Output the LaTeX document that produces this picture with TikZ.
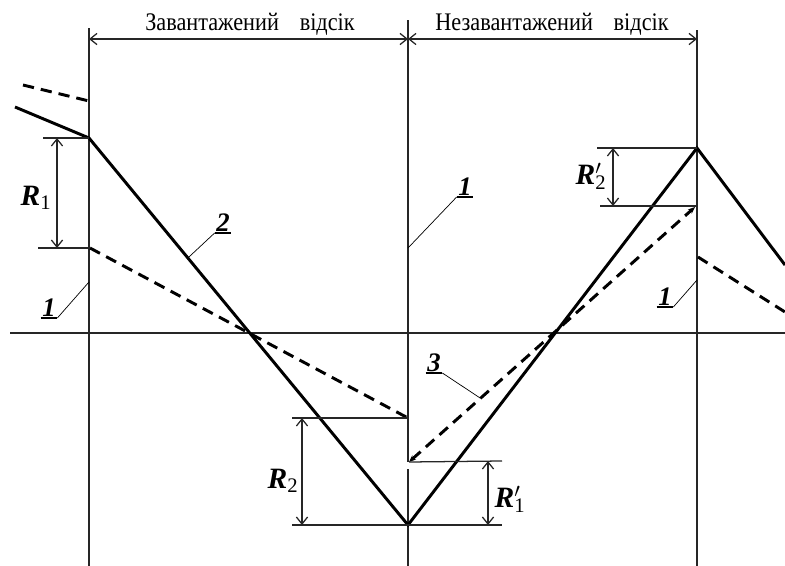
\documentclass[tikz,border=0pt]{standalone}
\usepackage{fontspec}
\setmainfont{Liberation Serif}
\newfontfamily\titlefont[FakeStretch=0.88]{Liberation Serif}
\usetikzlibrary{arrows.meta}

\begin{document}
\begin{tikzpicture}[
    x=0.025cm, y=-0.025cm,
    % Line styles
    thin/.style={line width=0.9pt, draw=black!85},
    curve/.style={line width=2.1pt},
    dashcurve/.style={line width=2.1pt, dash pattern=on 8pt off 5pt},
    leader/.style={line width=0.5pt},
    uline/.style={line width=1.4pt},
    dim/.style={thin, {Straight Barb[length=5pt,width=8pt]}-{Straight Barb[length=5pt,width=8pt]}},
    tip/.style={{Stealth[length=5pt,width=4pt]}-{Stealth[length=5pt,width=4pt]}},
    % Text styles
    title/.style={font=\titlefont\fontsize{18}{18}\selectfont, inner sep=0pt, anchor=base},
    lbl/.style={font=\fontsize{21}{21}\selectfont\bfseries\itshape, inner sep=0pt},
    num/.style={font=\fontsize{19}{19}\selectfont\bfseries\itshape, inner sep=1pt},
]
\useasboundingbox (0,0) rectangle (785,566);

% Frame of the bays
\coordinate (a0) at (10,333);  \coordinate (a1) at (785,333);
\coordinate (vl0) at (89,28);  \coordinate (vl1) at (89,566);
\coordinate (vm0) at (408,20); \coordinate (vm1) at (408,462);
\coordinate (vm2) at (408,469); \coordinate (vm3) at (408,566);
\coordinate (vr0) at (697,30); \coordinate (vr1) at (697,566);
\draw[thin] (a0) -- (a1);
\draw[thin] (vl0) -- (vl1);
\draw[thin] (vm0) -- (vm1);
\draw[thin] (vm2) -- (vm3);
\draw[thin] (vr0) -- (vr1);

% Bay dimensions
\coordinate (d0) at (89,39); \coordinate (d1) at (408,39); \coordinate (d2) at (697,39);
\draw[dim] (d0) -- (d1);
\draw[dim] (d1) -- (d2);
\node[title] (loaded) at (250,30) {Завантажений\hspace{0.52cm}відсік};
\node[title] (unloaded) at (552,30) {Незавантажений\hspace{0.52cm}відсік};

% Moment line 2
\coordinate (k0) at (15,107);
\coordinate (k1) at (89,138);
\coordinate (k2) at (408,525);
\coordinate (k3) at (697,148);
\coordinate (k4) at (785,265);
\draw[curve] (k0) -- (k1) -- (k2) -- (k3) -- (k4);

% Moment lines 1 and 3
\coordinate (s0) at (23,85);  \coordinate (s1) at (89,101);
\coordinate (s2) at (90,248); \coordinate (s3) at (408,418);
\coordinate (s4) at (409,462); \coordinate (s5) at (695,207);
\coordinate (s6) at (698,257); \coordinate (s7) at (785,312);
\draw[dashcurve] (s0) -- (s1);
\draw[dashcurve] (s2) -- (s3);
\draw[dashcurve, tip] (s4) -- (s5);
\draw[dashcurve] (s6) -- (s7);

% R1
\coordinate (r1a) at (43,138); \coordinate (r1b) at (38,248);
\draw[thin] (r1a) -- (k1);
\draw[thin] (r1b) -- (s2);
\coordinate (r1t) at (57,138); \coordinate (r1u) at (57,248);
\draw[dim] (r1t) -- (r1u);
\node[lbl] (R1) at (36,198) {R\textsubscript{\normalfont 1}};

% R2
\coordinate (r2a) at (292,418); \coordinate (r2b) at (292,525);
\draw[thin] (r2a) -- (s3);
\draw[thin] (r2b) -- (k2);
\coordinate (r2t) at (302,418); \coordinate (r2u) at (302,525);
\draw[dim] (r2t) -- (r2u);
\node[lbl] (R2) at (283,481) {R\textsubscript{\normalfont 2}};

% R1'
\coordinate (q1a) at (502,461); \coordinate (q1b) at (502,525);
\draw[thin] (s4) -- (q1a);
\draw[thin] (k2) -- (q1b);
\coordinate (q1t) at (488,461); \coordinate (q1u) at (488,525);
\draw[dim] (q1t) -- (q1u);
\node[lbl] (R1p) at (510,499) {R\rlap{$'$}\textsubscript{\normalfont 1}};

% R2'
\coordinate (q2a) at (597,148); \coordinate (q2b) at (600,206);
\coordinate (q2c) at (697,206);
\draw[thin] (q2a) -- (k3);
\draw[thin] (q2b) -- (q2c);
\coordinate (q2t) at (613,148); \coordinate (q2u) at (613,206);
\draw[dim] (q2t) -- (q2u);
\node[lbl] (R2p) at (591,176) {R\rlap{$'$}\textsubscript{\normalfont 2}};

% Callouts
\coordinate (p1l) at (89,282);
\coordinate (p1m) at (408,248);
\coordinate (p1r) at (697,280);
\path (k1) -- (k2) coordinate[pos=0.31] (p2);
\path (s4) -- (s5) coordinate[pos=0.25] (p3);

\node[num, anchor=south] (n1l) at (49,318) {1};
\draw[uline] (n1l.south west) -- (n1l.south east);
\draw[leader] (n1l.south east) -- (p1l);

\node[num, anchor=south] (n2) at (223,233) {2};
\draw[uline] (n2.south west) -- (n2.south east);
\draw[leader] (n2.south west) -- (p2);

\node[num, anchor=south] (n1m) at (465,197) {1};
\draw[uline] (n1m.south west) -- (n1m.south east);
\draw[leader] (n1m.south west) -- (p1m);

\node[num, anchor=south] (n1r) at (665,307) {1};
\draw[uline] (n1r.south west) -- (n1r.south east);
\draw[leader] (n1r.south east) -- (p1r);

\node[num, anchor=south] (n3) at (434,373) {3};
\draw[uline] (n3.south west) -- (n3.south east);
\draw[leader] (n3.south east) -- (p3);

\end{tikzpicture}
\end{document}
